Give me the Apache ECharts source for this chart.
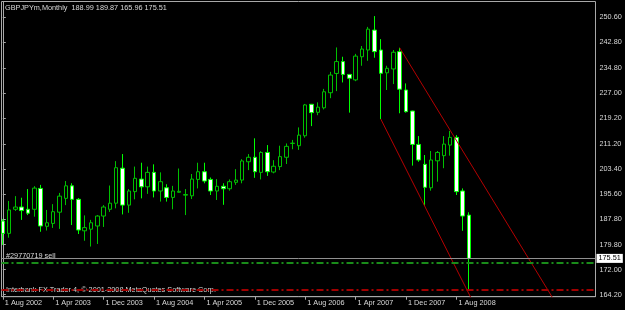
<!DOCTYPE html>
<html><head><meta charset="utf-8">
<script src="https://cdn.jsdelivr.net/npm/echarts@6/dist/echarts.min.js"></script>
<style>html,body{margin:0;padding:0;background:#000;}#c{width:625px;height:310px;}</style>
</head><body><div id="c"></div>
<script>
const symbolName = 'GBPJPYm,Monthly';
// monthly bars, Aug 2002 .. Oct 2008 (index 0..74)
const opens  = [187.15,183.3,190.8,191.5,190.8,190.8,197.3,185.5,186.4,189.9,194.2,198.1,193.9,184.1,184.6,185.6,188.7,190.8,192.7,203.6,
                192.1,196.3,200.2,197.8,202.3,196.5,197.5,194.5,196.1,195.2,195.0,200.1,202.5,200.1,196.5,197.96,197.2,199.2,199.9,205.6,
                207.0,202.3,208.5,202.4,204.1,207.0,211.3,210.6,213.7,223.5,221.0,222.4,227.1,233.1,236.8,232.8,231.1,238.3,240.4,246.6,
                240.4,233.3,234.5,239.9,227.95,221.4,211.0,204.8,197.5,205.9,207.5,210.8,213.2,196.5,188.99];
const highs  = [187.8,193.4,194.9,194.4,197.1,198.0,198.4,190.6,192.4,195.9,199.6,198.9,194.3,188.9,187.5,189.0,192.1,198.2,205.8,208.0,
                197.1,204.1,205.3,204.1,204.8,202.3,198.6,198.1,203.5,197.1,201.8,205.3,205.3,200.7,200.2,198.9,200.1,203.3,206.4,208.0,
                212.9,208.9,210.8,206.1,210.6,211.3,212.4,216.3,223.6,223.6,224.1,228.3,233.6,241.2,238.3,232.8,239.2,241.65,247.6,250.97,
                243.8,235.5,240.4,241.1,230.0,221.5,213.6,207.7,208.95,208.95,213.6,215.2,213.9,197.3,189.87];
const lows   = [179.7,181.95,190.3,187.5,189.0,188.5,183.8,184.2,185.0,184.7,192.1,185.9,183.1,181.0,179.2,180.0,185.3,190.0,191.1,189.2,
                189.7,193.9,194.2,195.6,194.5,193.2,193.2,190.8,196.0,189.0,194.0,197.3,198.9,195.25,193.7,192.2,196.6,198.4,198.9,203.0,
                200.6,200.1,201.2,202.0,203.0,204.9,209.5,209.3,213.1,216.7,220.1,221.9,225.4,227.6,230.3,220.9,230.7,235.5,237.05,238.0,
                218.9,227.95,229.8,220.7,220.9,204.4,205.6,191.8,196.6,199.4,203.6,207.5,195.25,184.1,165.96];
const closes = [183.3,190.6,191.5,190.4,189.6,197.4,185.6,186.6,190.05,194.9,198.1,193.9,184.35,185.1,186.6,188.7,191.5,192.7,203.75,192.1,
                196.5,200.45,197.8,202.3,196.5,199.4,194.5,196.5,196.4,195.4,200.2,202.5,199.6,196.5,197.96,197.2,199.4,199.9,205.85,207.0,
                202.5,208.5,202.5,204.2,207.2,210.4,211.4,213.9,223.3,220.9,222.6,227.4,232.6,236.8,232.8,231.6,238.5,240.7,246.9,239.9,
                233.15,234.7,239.7,228.2,221.2,211.0,206.15,197.65,206.15,208.5,211.1,213.2,196.3,188.7,175.51];
const xTickBars   = [0, 8, 16, 24, 32, 40, 48, 56, 64, 72];
const xTickLabels = ['1 Aug 2002','1 Apr 2003','1 Dec 2003','1 Aug 2004','1 Apr 2005','1 Dec 2005','1 Aug 2006','1 Apr 2007','1 Dec 2007','1 Aug 2008'];
const yTickLabels = ['164.20','172.00','179.80','187.80','195.60','203.40','211.20','219.20','227.00','234.80','242.80','250.60'];
const bidPrice = 175.51;
const orderLabel = '#29770719 sell';
const orderPrice = 174.3;
const stopPrice = 165.8;
const trendUpper = [[63, 241.1], [87.5, 162.5]];
const trendLower = [[60, 218.9], [74.5, 162.5]];
const copyrightText = 'Interbank FX Trader 4, \u00a9 2001-2008 MetaQuotes Software Corp.';

const last = opens.length - 1;
const headerText = symbolName + '  ' + [opens[last], highs[last], lows[last], closes[last]].map(v => v.toFixed(2)).join(' ');
const candleData = opens.map((o, i) => [i, o, closes[i], lows[i], highs[i]]);
const yTickValues = yTickLabels.map(parseFloat);

const FONT = 'Liberation Sans, Arial, sans-serif';
const FS = 7.3;
const TXT = '#d8d8d8';
const FRAME = '#a8a8a8';

const chart = echarts.init(document.getElementById('c'), null, {renderer: 'canvas'});
chart.setOption({
  backgroundColor: '#000',
  animation: false,
  grid: {left: 1.5, right: 29.5, top: 1.5, bottom: 13.3, show: true, borderColor: FRAME, borderWidth: 1},
  xAxis: {
    type: 'value', min: -0.206, max: 94.08,
    axisLine: {show: true, lineStyle: {color: FRAME, width: 1}},
    axisTick: {show: true, customValues: xTickBars, length: 3, lineStyle: {color: FRAME}},
    axisLabel: {customValues: xTickBars, align: 'left', margin: 3, padding: [0,0,0,2],
      fontSize: FS, fontFamily: FONT, color: TXT,
      formatter: v => xTickLabels[xTickBars.indexOf(Math.round(v))]},
    splitLine: {show: false}
  },
  yAxis: {
    type: 'value', position: 'right', min: 163.58, max: 255.51, scale: true,
    axisLine: {show: true, lineStyle: {color: FRAME, width: 1}},
    axisTick: {show: true, customValues: yTickValues, length: 3, lineStyle: {color: FRAME}},
    axisLabel: {customValues: yTickValues, margin: 4, fontSize: FS, fontFamily: FONT, color: TXT,
      formatter: v => { let b = 0; yTickValues.forEach((t, i) => { if (Math.abs(t - v) < Math.abs(yTickValues[b] - v)) b = i; }); return yTickLabels[b]; }},
    splitLine: {show: false}
  },
  series: [
    {
      type: 'candlestick', data: candleData, encode: {x: 0, y: [1, 2, 3, 4]},
      barWidth: 4,
      itemStyle: {color: '#000', color0: '#fff', borderColor: '#00c000', borderColor0: '#00ff00', borderWidth: 1},
      markLine: {
        silent: true, symbol: 'none', animation: false,
        data: [
          {yAxis: orderPrice, lineStyle: {color: '#1a8c1a', width: 2, type: [7, 3, 2, 3]}, label: {show: false}},
          {yAxis: stopPrice, lineStyle: {color: '#a00000', width: 2, type: [7, 3, 2, 3]}, label: {show: false}},
          {yAxis: bidPrice, lineStyle: {color: '#909090', width: 1, type: 'solid'},
           label: {show: true, position: 'end', distance: 1, formatter: bidPrice.toFixed(2), backgroundColor: '#fff',
                   color: '#000', fontSize: FS, fontFamily: FONT, padding: [1, 2, 1, 2]}}
        ]
      }
    },
    {type: 'line', data: trendUpper, showSymbol: false, silent: true, clip: true, lineStyle: {color: '#b40000', width: 1}},
    {type: 'line', data: trendLower, showSymbol: false, silent: true, clip: true, lineStyle: {color: '#b40000', width: 1}}
  ],
  graphic: [
    {type: 'text', left: 5, top: 4, silent: true, style: {text: headerText, fill: TXT, font: FS + 'px ' + FONT}},
    {type: 'text', left: 6, top: 252, silent: true, style: {text: orderLabel, fill: TXT, font: FS + 'px ' + FONT}},
    {type: 'text', left: 6, top: 286, silent: true, style: {text: copyrightText, fill: TXT, font: FS + 'px ' + FONT}}
  ]
});
</script></body></html>
